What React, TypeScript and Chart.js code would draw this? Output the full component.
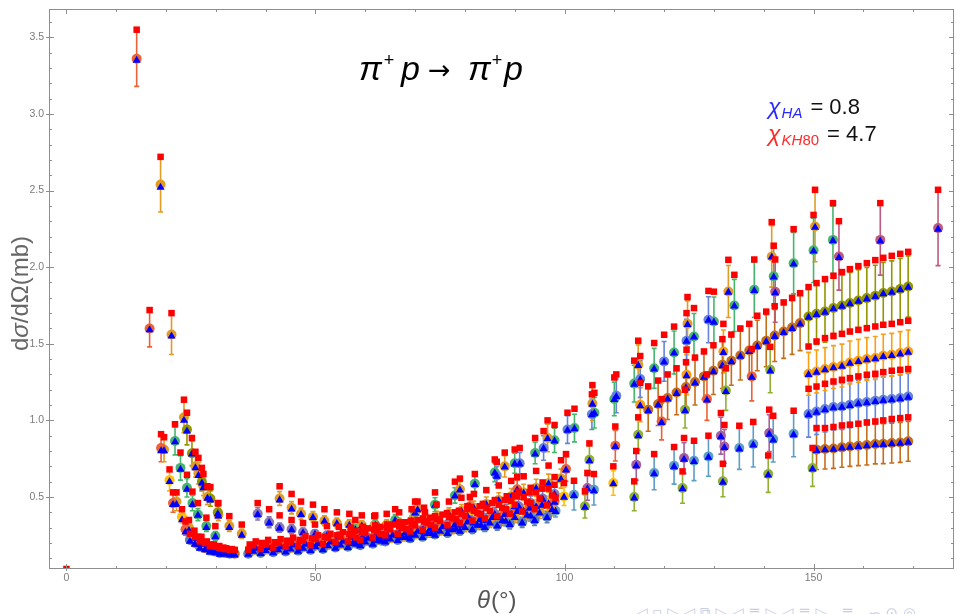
import React, { useEffect, useRef } from "react";
import { Chart, registerables } from "chart.js";

Chart.register(...registerables);

// [angle (deg), measured dσ/dΩ (mb), error, HA model, KH80 model]
type Pt = [number, number, number, number, number];

const edgePoint: Pt[] = [[0.0, 0.01, 0.01, 0.005, 0.03]];

const fwdRedOrange: Pt[] = [
  [14.1, 3.36, 0.18, 3.35, 3.55], [16.7, 1.6, 0.12, 1.59, 1.72], [19.0, 0.82, 0.09, 0.8, 0.91],
  [21.4, 0.46, 0.06, 0.45, 0.53], [23.9, 0.29, 0.04, 0.27, 0.34], [26.5, 0.2, 0.03, 0.19, 0.24],
  [29.0, 0.16, 0.02, 0.15, 0.19], [31.5, 0.145, 0.02, 0.135, 0.17],
];
const fwdOrange: Pt[] = [
  [18.9, 2.54, 0.18, 2.52, 2.72], [21.1, 1.56, 0.13, 1.55, 1.7], [19.6, 0.81, 0.08, 0.8, 0.89],
  [22.1, 0.47, 0.06, 0.45, 0.53], [24.6, 0.3, 0.04, 0.28, 0.35], [27.1, 0.2, 0.03, 0.19, 0.24],
  [29.6, 0.16, 0.02, 0.15, 0.19], [32.1, 0.14, 0.02, 0.13, 0.165],
];
const fwdYellow: Pt[] = [
  [20.7, 0.61, 0.07, 0.6, 0.68], [23.2, 0.37, 0.04, 0.35, 0.42], [25.7, 0.24, 0.03, 0.23, 0.28],
  [28.2, 0.18, 0.02, 0.17, 0.21], [30.7, 0.15, 0.02, 0.14, 0.18], [33.2, 0.14, 0.02, 0.13, 0.16],
];
const fwdGreen: Pt[] = [
  [21.8, 0.865, 0.09, 0.86, 0.975], [22.9, 0.69, 0.08, 0.68, 0.79], [24.2, 0.56, 0.06, 0.55, 0.645],
  [25.3, 0.46, 0.05, 0.45, 0.535], [26.4, 0.385, 0.04, 0.38, 0.46], [28.1, 0.31, 0.035, 0.3, 0.365],
  [29.9, 0.245, 0.03, 0.24, 0.31],
];
const fwdOlive: Pt[] = [
  [24.2, 0.94, 0.1, 0.93, 1.05], [25.2, 0.785, 0.08, 0.78, 0.885], [27.2, 0.6, 0.06, 0.59, 0.69],
  [28.9, 0.49, 0.05, 0.48, 0.565], [30.4, 0.4, 0.04, 0.39, 0.46],
];
const fwdOrangeHigh: Pt[] = [
  [23.6, 1.02, 0.1, 1.0, 1.135], [25.9, 0.7, 0.07, 0.69, 0.795], [26.5, 0.655, 0.07, 0.64, 0.755],
  [27.5, 0.57, 0.06, 0.56, 0.65], [28.3, 0.5, 0.05, 0.49, 0.57], [30.5, 0.385, 0.04, 0.375, 0.46],
  [32.7, 0.31, 0.035, 0.3, 0.375], [35.2, 0.26, 0.03, 0.25, 0.32],
];
const fwdBlue: Pt[] = [
  [24.8, 0.22, 0.02, 0.21, 0.26], [26.8, 0.175, 0.02, 0.165, 0.21], [28.8, 0.15, 0.015, 0.14, 0.18],
  [30.8, 0.135, 0.015, 0.125, 0.165], [32.8, 0.13, 0.015, 0.12, 0.155],
];
const fwdBrown: Pt[] = [
  [25.8, 0.2, 0.02, 0.19, 0.24], [27.8, 0.165, 0.02, 0.155, 0.2], [29.8, 0.145, 0.015, 0.135, 0.175],
  [31.8, 0.135, 0.015, 0.125, 0.16], [33.8, 0.13, 0.015, 0.12, 0.155],
];

const bandBlue: Pt[] = [
  [36.5, 0.13, 0.015, 0.125, 0.155], [39.0, 0.135, 0.015, 0.13, 0.16], [41.5, 0.14, 0.015, 0.135, 0.17],
  [44.0, 0.145, 0.015, 0.14, 0.175], [46.5, 0.15, 0.015, 0.145, 0.18], [49.0, 0.155, 0.016, 0.15, 0.185],
  [51.5, 0.16, 0.016, 0.155, 0.195], [54.0, 0.17, 0.017, 0.165, 0.205], [56.5, 0.175, 0.017, 0.17, 0.21],
  [59.0, 0.185, 0.018, 0.18, 0.22], [61.5, 0.195, 0.019, 0.19, 0.235], [64.0, 0.21, 0.02, 0.205, 0.25],
  [66.5, 0.22, 0.021, 0.215, 0.26], [69.0, 0.23, 0.022, 0.225, 0.275], [71.5, 0.24, 0.023, 0.235, 0.285],
  [74.0, 0.255, 0.024, 0.25, 0.3], [76.5, 0.265, 0.025, 0.26, 0.315], [79.0, 0.28, 0.027, 0.275, 0.33],
  [81.5, 0.29, 0.028, 0.285, 0.345], [84.0, 0.305, 0.03, 0.3, 0.36], [86.5, 0.315, 0.031, 0.31, 0.375],
  [89.0, 0.325, 0.033, 0.32, 0.39], [91.5, 0.335, 0.034, 0.33, 0.405], [94.0, 0.35, 0.036, 0.345, 0.42],
  [96.5, 0.37, 0.038, 0.365, 0.445],
];
const bandOrange: Pt[] = [
  [37.5, 0.15, 0.016, 0.145, 0.185], [40.0, 0.155, 0.016, 0.15, 0.19], [42.5, 0.16, 0.016, 0.155, 0.2],
  [45.0, 0.165, 0.017, 0.16, 0.205], [47.5, 0.17, 0.017, 0.165, 0.215], [50.0, 0.18, 0.018, 0.175, 0.225],
  [52.5, 0.185, 0.018, 0.18, 0.235], [55.0, 0.19, 0.019, 0.185, 0.24], [57.5, 0.2, 0.02, 0.195, 0.25],
  [60.0, 0.21, 0.021, 0.205, 0.265], [62.5, 0.22, 0.022, 0.215, 0.275], [65.0, 0.23, 0.023, 0.225, 0.29],
  [67.5, 0.24, 0.024, 0.235, 0.3], [70.0, 0.255, 0.025, 0.25, 0.315], [72.5, 0.265, 0.026, 0.26, 0.33],
  [75.0, 0.28, 0.028, 0.275, 0.345], [77.5, 0.29, 0.029, 0.285, 0.36], [80.0, 0.305, 0.031, 0.3, 0.375],
  [82.5, 0.32, 0.032, 0.315, 0.395], [85.0, 0.335, 0.034, 0.33, 0.41], [87.5, 0.35, 0.035, 0.345, 0.43],
  [90.0, 0.37, 0.037, 0.365, 0.45], [92.5, 0.385, 0.039, 0.38, 0.47], [95.0, 0.4, 0.04, 0.395, 0.49],
  [97.5, 0.42, 0.042, 0.415, 0.51],
];
const bandRed: Pt[] = [
  [38.0, 0.17, 0.017, 0.165, 0.21], [40.5, 0.175, 0.017, 0.17, 0.22], [43.0, 0.18, 0.018, 0.175, 0.225],
  [45.5, 0.19, 0.019, 0.185, 0.235], [48.0, 0.195, 0.019, 0.19, 0.245], [50.5, 0.2, 0.02, 0.195, 0.25],
  [53.0, 0.21, 0.021, 0.205, 0.26], [55.5, 0.215, 0.021, 0.21, 0.27], [58.0, 0.225, 0.022, 0.22, 0.28],
  [60.5, 0.235, 0.023, 0.23, 0.295], [63.0, 0.245, 0.024, 0.24, 0.305], [65.5, 0.255, 0.025, 0.25, 0.32],
  [68.0, 0.27, 0.027, 0.265, 0.335], [70.5, 0.28, 0.028, 0.275, 0.35], [73.0, 0.295, 0.029, 0.29, 0.365],
  [75.5, 0.31, 0.031, 0.305, 0.385], [78.0, 0.325, 0.032, 0.32, 0.4], [80.5, 0.34, 0.034, 0.335, 0.42],
  [83.0, 0.355, 0.035, 0.35, 0.44], [85.5, 0.37, 0.037, 0.365, 0.46], [88.0, 0.39, 0.039, 0.385, 0.48],
  [90.5, 0.41, 0.041, 0.405, 0.505], [93.0, 0.43, 0.043, 0.425, 0.53], [95.5, 0.45, 0.045, 0.445, 0.555],
  [98.0, 0.47, 0.047, 0.465, 0.58],
];
const bandPurple: Pt[] = [
  [38.4, 0.39, 0.04, 0.385, 0.46], [40.7, 0.335, 0.035, 0.33, 0.42], [42.8, 0.3, 0.03, 0.295, 0.38],
  [45.2, 0.29, 0.03, 0.285, 0.35], [47.5, 0.27, 0.027, 0.265, 0.33], [49.9, 0.26, 0.026, 0.255, 0.32],
  [52.3, 0.25, 0.025, 0.245, 0.31], [54.7, 0.245, 0.025, 0.24, 0.305], [57.1, 0.24, 0.024, 0.235, 0.3],
  [59.5, 0.245, 0.025, 0.24, 0.305], [62.0, 0.25, 0.025, 0.245, 0.315], [64.4, 0.255, 0.026, 0.25, 0.32],
  [66.8, 0.265, 0.027, 0.26, 0.335], [69.2, 0.275, 0.028, 0.27, 0.345], [71.6, 0.29, 0.029, 0.285, 0.36],
  [74.0, 0.3, 0.03, 0.295, 0.375], [76.4, 0.315, 0.032, 0.31, 0.395], [78.8, 0.33, 0.033, 0.325, 0.41],
  [81.2, 0.35, 0.035, 0.345, 0.435], [83.6, 0.37, 0.037, 0.365, 0.455], [86.0, 0.39, 0.039, 0.385, 0.48],
  [88.4, 0.41, 0.041, 0.405, 0.505], [90.8, 0.44, 0.044, 0.435, 0.535], [93.2, 0.46, 0.046, 0.455, 0.56],
  [95.6, 0.49, 0.049, 0.485, 0.595], [98.0, 0.52, 0.052, 0.515, 0.63],
];
const bandOrangeHigh: Pt[] = [
  [42.8, 0.49, 0.045, 0.48, 0.57], [45.2, 0.43, 0.04, 0.42, 0.52], [47.1, 0.39, 0.037, 0.385, 0.47],
  [49.5, 0.37, 0.035, 0.365, 0.45], [51.8, 0.345, 0.033, 0.34, 0.42], [54.3, 0.33, 0.032, 0.325, 0.4],
  [56.8, 0.32, 0.031, 0.315, 0.39], [59.3, 0.315, 0.03, 0.31, 0.38], [61.8, 0.31, 0.03, 0.305, 0.375],
  [64.3, 0.32, 0.031, 0.315, 0.39], [66.8, 0.33, 0.032, 0.325, 0.4], [69.3, 0.345, 0.034, 0.34, 0.42],
  [71.8, 0.355, 0.035, 0.35, 0.43], [74.3, 0.37, 0.037, 0.365, 0.45], [76.8, 0.39, 0.039, 0.385, 0.47],
  [79.3, 0.41, 0.041, 0.405, 0.495], [81.8, 0.43, 0.043, 0.425, 0.52], [84.3, 0.455, 0.045, 0.45, 0.545],
  [86.8, 0.48, 0.048, 0.475, 0.575], [89.3, 0.505, 0.05, 0.5, 0.605], [91.8, 0.53, 0.053, 0.525, 0.635],
  [94.3, 0.56, 0.056, 0.555, 0.67], [96.8, 0.59, 0.059, 0.585, 0.705], [99.3, 0.62, 0.062, 0.615, 0.74],
];
const bandYellow: Pt[] = [
  [36.8, 0.16, 0.016, 0.155, 0.19], [39.3, 0.165, 0.016, 0.16, 0.2], [41.8, 0.17, 0.017, 0.165, 0.205],
  [44.3, 0.175, 0.017, 0.17, 0.215], [46.8, 0.18, 0.018, 0.175, 0.22], [49.3, 0.19, 0.019, 0.185, 0.23],
  [51.8, 0.195, 0.019, 0.19, 0.24], [54.3, 0.2, 0.02, 0.195, 0.25], [56.8, 0.21, 0.021, 0.205, 0.26],
  [59.3, 0.22, 0.022, 0.215, 0.27], [61.8, 0.23, 0.023, 0.225, 0.285], [64.3, 0.24, 0.024, 0.235, 0.295],
  [66.8, 0.25, 0.025, 0.245, 0.31], [69.3, 0.26, 0.026, 0.255, 0.32], [71.8, 0.275, 0.027, 0.27, 0.34],
  [74.3, 0.29, 0.029, 0.285, 0.355], [76.8, 0.3, 0.03, 0.295, 0.37], [79.3, 0.32, 0.032, 0.315, 0.39],
  [81.8, 0.335, 0.033, 0.33, 0.41], [84.3, 0.35, 0.035, 0.345, 0.43], [86.8, 0.37, 0.037, 0.365, 0.45],
  [89.3, 0.39, 0.039, 0.385, 0.475], [91.8, 0.41, 0.041, 0.405, 0.5], [94.3, 0.44, 0.044, 0.435, 0.53],
  [96.8, 0.46, 0.046, 0.455, 0.555],
];
const bandLightBlue: Pt[] = [
  [58.2, 0.195, 0.019, 0.19, 0.235], [63.2, 0.215, 0.021, 0.21, 0.26], [68.2, 0.24, 0.024, 0.235, 0.29],
  [73.2, 0.265, 0.026, 0.26, 0.32], [78.2, 0.295, 0.029, 0.29, 0.355], [83.2, 0.32, 0.032, 0.315, 0.39],
  [88.2, 0.345, 0.034, 0.34, 0.42], [93.2, 0.38, 0.038, 0.375, 0.46], [98.2, 0.41, 0.041, 0.405, 0.495],
];

const steepGreen: Pt[] = [
  [58.0, 0.29, 0.03, 0.285, 0.35], [62.0, 0.32, 0.032, 0.315, 0.38], [66.0, 0.35, 0.035, 0.345, 0.42],
  [70.0, 0.4, 0.04, 0.395, 0.47], [74.0, 0.45, 0.045, 0.445, 0.53], [78.0, 0.51, 0.05, 0.505, 0.6],
  [82.0, 0.587, 0.055, 0.58, 0.65], [86.0, 0.66, 0.06, 0.655, 0.745], [90.0, 0.72, 0.065, 0.715, 0.81],
  [94.1, 0.787, 0.07, 0.78, 0.885], [98.0, 0.87, 0.08, 0.865, 0.97], [102.0, 0.95, 0.09, 0.945, 1.076],
  [106.0, 1.05, 0.1, 1.045, 1.18], [110.0, 1.14, 0.11, 1.135, 1.28], [114.0, 1.24, 0.12, 1.235, 1.39],
  [118.0, 1.34, 0.13, 1.335, 1.505], [122.0, 1.443, 0.14, 1.438, 1.612], [126.0, 1.548, 0.15, 1.543, 1.733],
  [130.0, 1.645, 0.16, 1.64, 1.84], [134.1, 1.75, 0.17, 1.745, 1.95], [138.1, 1.852, 0.18, 1.847, 2.05],
  [142.0, 1.94, 0.19, 1.935, 2.14], [146.0, 2.026, 0.2, 2.02, 2.248], [150.0, 2.11, 0.21, 2.105, 2.341],
  [153.9, 2.178, 0.22, 2.172, 2.418],
];
const steepOrange: Pt[] = [
  [70.5, 0.42, 0.04, 0.415, 0.47], [79.0, 0.55, 0.05, 0.545, 0.62], [88.0, 0.7, 0.07, 0.695, 0.79],
  [96.6, 0.885, 0.09, 0.88, 1.0], [105.6, 1.11, 0.11, 1.105, 1.23], [114.8, 1.363, 0.13, 1.358, 1.52],
  [124.7, 1.63, 0.15, 1.625, 1.805], [132.9, 1.841, 0.17, 1.836, 2.048], [141.6, 2.07, 0.2, 2.065, 2.294],
  [150.3, 2.265, 0.23, 2.26, 2.505],
];
const steepBlue: Pt[] = [
  [86.4, 0.64, 0.06, 0.635, 0.73], [91.0, 0.72, 0.07, 0.715, 0.82], [95.8, 0.82, 0.08, 0.815, 0.93],
  [100.6, 0.94, 0.09, 0.935, 1.05], [105.5, 1.04, 0.1, 1.035, 1.17], [110.4, 1.16, 0.11, 1.155, 1.3],
  [115.2, 1.27, 0.12, 1.265, 1.42], [120.0, 1.385, 0.13, 1.38, 1.559], [124.5, 1.52, 0.14, 1.515, 1.7],
  [128.9, 1.657, 0.15, 1.652, 1.845],
];
const midRedOrange: Pt[] = [
  [72.0, 0.35, 0.03, 0.345, 0.4], [81.0, 0.44, 0.04, 0.435, 0.5], [90.5, 0.55, 0.06, 0.545, 0.63],
  [100.3, 0.683, 0.08, 0.675, 0.78], [110.2, 0.835, 0.1, 0.828, 0.96], [119.5, 0.993, 0.12, 0.985, 1.139],
  [128.6, 1.14, 0.14, 1.132, 1.3], [137.6, 1.287, 0.16, 1.28, 1.465],
];
const midYellow: Pt[] = [
  [80.5, 0.38, 0.04, 0.375, 0.44], [90.0, 0.44, 0.045, 0.435, 0.51], [99.9, 0.504, 0.06, 0.498, 0.591],
  [109.8, 0.591, 0.08, 0.585, 0.7],
];
const midOrange: Pt[] = [
  [115.2, 1.102, 0.11, 1.095, 1.244], [124.5, 1.298, 0.13, 1.29, 1.461], [131.9, 1.45, 0.14, 1.442, 1.63],
];
const lowLightBlue: Pt[] = [
  [101.9, 0.515, 0.1, 0.508, 0.606], [105.9, 0.548, 0.1, 0.54, 0.65], [118.0, 0.657, 0.11, 0.65, 0.78],
  [122.0, 0.704, 0.12, 0.697, 0.826], [126.0, 0.737, 0.13, 0.73, 0.867], [128.9, 0.765, 0.13, 0.758, 0.9],
  [135.1, 0.82, 0.14, 0.813, 0.965], [137.9, 0.846, 0.15, 0.839, 0.99], [141.9, 0.878, 0.15, 0.871, 1.03],
  [146.0, 0.913, 0.15, 0.906, 1.063],
];
const lowMagenta: Pt[] = [
  [104.6, 0.559, 0.08, 0.552, 0.657], [114.4, 0.71, 0.1, 0.703, 0.8], [124.0, 0.754, 0.1, 0.745, 0.885],
  [131.4, 0.9, 0.12, 0.892, 1.048], [132.1, 0.83, 0.11, 0.822, 0.97], [141.1, 0.917, 0.12, 0.909, 1.07],
];
const lowLime: Pt[] = [
  [104.1, 0.439, 0.076, 0.432, 0.537], [114.0, 0.5, 0.09, 0.493, 0.602], [123.7, 0.559, 0.1, 0.552, 0.667],
  [131.8, 0.602, 0.1, 0.595, 0.717], [140.9, 0.65, 0.12, 0.643, 0.771], [149.8, 0.689, 0.12, 0.682, 0.82],
];
const midLime: Pt[] = [
  [105.0, 0.743, 0.09, 0.735, 0.85], [114.8, 0.906, 0.1, 0.898, 1.02], [124.2, 1.07, 0.12, 1.062, 1.2],
  [132.4, 1.195, 0.13, 1.187, 1.34], [141.3, 1.33, 0.15, 1.322, 1.48],
];
const highPink: Pt[] = [
  [142.3, 1.84, 0.2, 1.832, 2.05], [155.1, 2.07, 0.22, 2.062, 2.3], [163.4, 2.178, 0.23, 2.17, 2.418],
  [175.0, 2.255, 0.245, 2.247, 2.505],
];
const backBrown: Pt[] = [
  [116.8, 1.069, 0.14, 1.062, 1.222], [118.8, 1.107, 0.14, 1.1, 1.26], [120.7, 1.146, 0.14, 1.139, 1.3],
  [122.5, 1.182, 0.145, 1.175, 1.34], [124.4, 1.218, 0.145, 1.211, 1.38], [126.2, 1.25, 0.15, 1.243, 1.41],
  [128.0, 1.287, 0.15, 1.28, 1.45], [129.9, 1.324, 0.155, 1.317, 1.49], [131.7, 1.363, 0.155, 1.356, 1.53],
  [133.5, 1.389, 0.16, 1.382, 1.56], [135.3, 1.424, 0.16, 1.417, 1.6], [137.1, 1.456, 0.165, 1.449, 1.63],
  [138.7, 1.489, 0.165, 1.482, 1.683], [140.5, 1.52, 0.17, 1.513, 1.71], [142.2, 1.554, 0.17, 1.547, 1.745],
  [144.0, 1.58, 0.175, 1.573, 1.77], [145.7, 1.606, 0.175, 1.599, 1.8], [147.3, 1.635, 0.18, 1.628, 1.83],
];
const backOlive: Pt[] = [
  [149.0, 1.678, 0.2, 1.672, 1.87], [150.6, 1.696, 0.2, 1.69, 1.896], [152.3, 1.711, 0.2, 1.705, 1.922],
  [154.0, 1.733, 0.2, 1.727, 1.944], [155.7, 1.75, 0.2, 1.744, 1.968], [157.3, 1.766, 0.2, 1.76, 1.987],
  [159.0, 1.783, 0.2, 1.777, 2.007], [160.7, 1.798, 0.2, 1.792, 2.026], [162.4, 1.813, 0.2, 1.807, 2.046],
  [164.0, 1.831, 0.2, 1.825, 2.061], [165.7, 1.841, 0.2, 1.835, 2.074], [167.4, 1.857, 0.2, 1.851, 2.087],
  [169.0, 1.874, 0.2, 1.868, 2.1],
];
const backOrange: Pt[] = [
  [149.0, 1.304, 0.14, 1.298, 1.482], [150.6, 1.319, 0.14, 1.313, 1.515], [152.3, 1.335, 0.14, 1.329, 1.537],
  [154.0, 1.348, 0.14, 1.342, 1.552], [155.7, 1.358, 0.14, 1.352, 1.565], [157.3, 1.378, 0.14, 1.372, 1.58],
  [159.0, 1.389, 0.14, 1.383, 1.591], [160.7, 1.4, 0.14, 1.394, 1.602], [162.4, 1.407, 0.14, 1.401, 1.613],
  [164.0, 1.422, 0.14, 1.416, 1.624], [165.7, 1.428, 0.14, 1.422, 1.63], [167.4, 1.439, 0.14, 1.433, 1.641],
  [169.0, 1.45, 0.14, 1.444, 1.65],
];
const backBlue: Pt[] = [
  [149.0, 1.041, 0.15, 1.035, 1.206], [150.6, 1.058, 0.15, 1.052, 1.221], [152.3, 1.074, 0.15, 1.068, 1.239],
  [154.0, 1.087, 0.15, 1.081, 1.254], [155.7, 1.091, 0.15, 1.085, 1.265], [157.3, 1.102, 0.15, 1.096, 1.276],
  [159.0, 1.113, 0.15, 1.107, 1.287], [160.7, 1.12, 0.15, 1.114, 1.298], [162.4, 1.128, 0.15, 1.122, 1.304],
  [164.0, 1.135, 0.15, 1.129, 1.315], [165.7, 1.139, 0.15, 1.133, 1.324], [167.4, 1.146, 0.15, 1.14, 1.33],
  [169.0, 1.156, 0.15, 1.15, 1.335],
];
const backBrownLow: Pt[] = [
  [150.6, 0.809, 0.13, 0.803, 0.95], [152.3, 0.813, 0.13, 0.807, 0.95], [154.0, 0.817, 0.13, 0.811, 0.957],
  [155.7, 0.824, 0.13, 0.818, 0.967], [157.3, 0.83, 0.13, 0.824, 0.972], [159.0, 0.835, 0.13, 0.829, 0.978],
  [160.7, 0.839, 0.13, 0.833, 0.987], [162.4, 0.846, 0.13, 0.84, 0.993], [164.0, 0.848, 0.13, 0.842, 1.0],
  [165.7, 0.852, 0.13, 0.846, 1.009], [167.4, 0.856, 0.13, 0.85, 1.015], [169.0, 0.863, 0.13, 0.857, 1.02],
];

// series and their Mathematica-style colours (style kept apart from the values)
const SERIES: [Pt[], string][] = [
  [edgePoint, "#EB6235"],
  [fwdRedOrange, "#EB6235"], [fwdOrange, "#E19C24"], [fwdYellow, "#FFBF00"], [fwdGreen, "#47B66D"],
  [fwdOlive, "#929600"], [fwdOrangeHigh, "#E19C24"], [fwdBlue, "#5E81B5"], [fwdBrown, "#C56E1A"],
  [bandBlue, "#5E81B5"], [bandOrange, "#E19C24"], [bandRed, "#EB6235"], [bandPurple, "#8778B3"],
  [bandOrangeHigh, "#E19C24"], [bandYellow, "#FFBF00"], [bandLightBlue, "#5D9EC7"],
  [lowLightBlue, "#5D9EC7"], [lowMagenta, "#A5609D"], [lowLime, "#8FB032"], [midLime, "#8FB032"],
  [midYellow, "#FFBF00"], [midRedOrange, "#EB6235"], [midOrange, "#F89F13"],
  [backBrown, "#C56E1A"], [backBrownLow, "#C56E1A"], [backBlue, "#6685D9"], [backOrange, "#F89F13"],
  [backOlive, "#929600"], [steepBlue, "#6685D9"], [steepOrange, "#E19C24"], [steepGreen, "#47B66D"],
  [highPink, "#BC5B80"],
];

const X_MIN = -3.5;
const X_MAX = 178.2;
const Y_MIN = 0.03;
const Y_MAX = 3.685;
const X_MAJOR = [0, 50, 100, 150];
const X_LABELS = ["0", "50", "100", "150"];
const X_MINOR = [10, 20, 30, 40, 60, 70, 80, 90, 110, 120, 130, 140, 160, 170];
const Y_MAJOR = [0.5, 1.0, 1.5, 2.0, 2.5, 3.0, 3.5];
const Y_LABELS = ["0.5", "1.0", "1.5", "2.0", "2.5", "3.0", "3.5"];

const SANS = "'Liberation Sans', Arial, sans-serif";

const errorBarPlugin = {
  id: "errorBars",
  beforeDatasetsDraw(chart: any) {
    const { ctx, chartArea: a, scales } = chart;
    ctx.save();
    ctx.beginPath();
    ctx.rect(a.left, a.top, a.right - a.left, a.bottom - a.top);
    ctx.clip();
    ctx.lineWidth = 1.6;
    chart.data.datasets.forEach((ds: any) => {
      if (!ds.errs) return;
      ctx.strokeStyle = ds.barColor;
      ds.data.forEach((p: any, i: number) => {
        const x = scales.x.getPixelForValue(p.x);
        const y1 = scales.y.getPixelForValue(p.y - ds.errs[i]);
        const y2 = scales.y.getPixelForValue(p.y + ds.errs[i]);
        ctx.beginPath();
        ctx.moveTo(x, y1);
        ctx.lineTo(x, y2);
        ctx.moveTo(x - 2.5, y1);
        ctx.lineTo(x + 2.5, y1);
        ctx.moveTo(x - 2.5, y2);
        ctx.lineTo(x + 2.5, y2);
        ctx.stroke();
      });
    });
    ctx.restore();
  },
};

function piece(ctx: CanvasRenderingContext2D, text: string, font: string, color: string, x: number, y: number) {
  ctx.font = font;
  ctx.fillStyle = color;
  ctx.fillText(text, x, y);
  return x + ctx.measureText(text).width;
}

const framePlugin = {
  id: "frame",
  afterDraw(chart: any) {
    const { ctx, chartArea: a, scales } = chart;
    const xs = scales.x;
    const ys = scales.y;
    ctx.save();
    ctx.strokeStyle = "#8e8e8e";
    ctx.lineWidth = 1;
    ctx.strokeRect(a.left + 0.5, a.top + 0.5, a.right - a.left - 1, a.bottom - a.top - 1);
    ctx.beginPath();
    X_MAJOR.forEach((v) => {
      const px = Math.round(xs.getPixelForValue(v)) + 0.5;
      ctx.moveTo(px, a.bottom + 2); ctx.lineTo(px, a.bottom - 5);
      ctx.moveTo(px, a.top); ctx.lineTo(px, a.top + 5);
    });
    X_MINOR.forEach((v) => {
      const px = Math.round(xs.getPixelForValue(v)) + 0.5;
      ctx.moveTo(px, a.bottom); ctx.lineTo(px, a.bottom - 3);
      ctx.moveTo(px, a.top); ctx.lineTo(px, a.top + 3);
    });
    for (let i = 1; i <= 36; i++) {
      const v = i / 10;
      const major = i % 5 === 0;
      const py = Math.round(ys.getPixelForValue(v)) + 0.5;
      if (major) {
        ctx.moveTo(a.left - 3, py); ctx.lineTo(a.left + 5, py);
        ctx.moveTo(a.right, py); ctx.lineTo(a.right - 5, py);
      } else {
        ctx.moveTo(a.left, py); ctx.lineTo(a.left + 3, py);
        ctx.moveTo(a.right, py); ctx.lineTo(a.right - 3, py);
      }
    }
    ctx.stroke();

    // tick labels
    ctx.fillStyle = "#7c7c7c";
    ctx.font = `10.5px ${SANS}`;
    ctx.textAlign = "right";
    ctx.textBaseline = "middle";
    Y_MAJOR.forEach((v, i) => ctx.fillText(Y_LABELS[i], a.left - 5, ys.getPixelForValue(v)));
    ctx.textAlign = "center";
    ctx.textBaseline = "top";
    X_MAJOR.forEach((v, i) => ctx.fillText(X_LABELS[i], xs.getPixelForValue(v), a.bottom + 4));

    // axis titles
    ctx.textAlign = "left";
    ctx.textBaseline = "alphabetic";
    ctx.save();
    ctx.translate(28, 351);
    ctx.rotate(-Math.PI / 2);
    let tx = 0;
    tx = piece(ctx, "d", `24px ${SANS}`, "#666", tx, 0);
    tx = piece(ctx, "σ", `italic 24px ${SANS}`, "#666", tx, 0);
    tx = piece(ctx, "/d", `24px ${SANS}`, "#666", tx, 0);
    tx = piece(ctx, "Ω(mb)", `24px ${SANS}`, "#666", tx, 0);
    ctx.restore();

    let bx = 477;
    bx = piece(ctx, "θ", `italic 24px ${SANS}`, "#555", bx, 608);
    piece(ctx, "(°)", `24px ${SANS}`, "#555", bx + 1, 608);

    // reaction title
    let t = piece(ctx, "π", `italic 34px ${SANS}`, "#000", 359, 80);
    piece(ctx, "+", `18px ${SANS}`, "#000", t + 2, 66);
    piece(ctx, "p", `italic 34px ${SANS}`, "#000", 401, 80);
    piece(ctx, "→", `27px 'DejaVu Sans', sans-serif`, "#000", 428, 79);
    t = piece(ctx, "π", `italic 34px ${SANS}`, "#000", 468, 80);
    piece(ctx, "+", `18px ${SANS}`, "#000", t + 1, 66);
    piece(ctx, "p", `italic 34px ${SANS}`, "#000", 504, 80);

    // chi-square annotations
    let lx = piece(ctx, "χ", `italic 23px ${SANS}`, "#2a2aff", 768, 114);
    lx = piece(ctx, "HA", `italic 15px ${SANS}`, "#2a2aff", lx + 1, 118);
    piece(ctx, "= 0.8", `22px ${SANS}`, "#111", lx + 8, 114);
    let kx = piece(ctx, "χ", `italic 23px ${SANS}`, "#ff2a2a", 768, 141);
    kx = piece(ctx, "KH", `italic 15px ${SANS}`, "#ff2a2a", kx + 1, 145);
    kx = piece(ctx, "80", `15px ${SANS}`, "#ff2a2a", kx, 145);
    piece(ctx, "= 4.7", `22px ${SANS}`, "#111", kx + 8, 141);

    // faint navigation symbols of the slide
    piece(ctx, "◁ ▫ ▷ ◁ ⧉ ▷ ◁ ≣ ▷ ◁ ≣ ▷   ≣   ∽ ⊙ ◎", `15px 'DejaVu Sans', sans-serif`, "#c9cde0", 636, 618);
    ctx.restore();
  },
};

export default function App() {
  const ref = useRef<HTMLCanvasElement>(null);
  useEffect(() => {
    if (!ref.current) return;
    const circleSets = SERIES.map(([pts, color], i) => ({
      type: "scatter" as const,
      label: `data ${i}`,
      data: pts.map((p) => ({ x: p[0], y: p[1] })),
      errs: pts.map((p) => p[2]),
      barColor: color,
      pointStyle: "circle",
      pointRadius: 5,
      pointBackgroundColor: color,
      pointBorderWidth: 0,
      borderColor: color,
      backgroundColor: color,
      showLine: false,
      order: 3,
      clip: 0,
    }));
    const haSet = {
      type: "scatter" as const,
      label: "HA",
      data: SERIES.flatMap(([pts]) => pts.map((p) => ({ x: p[0], y: p[3] }))),
      pointStyle: "triangle",
      pointRadius: 4.7,
      pointBackgroundColor: "#0000ff",
      backgroundColor: "#0000ff",
      borderColor: "#0000ff",
      pointBorderWidth: 0,
      showLine: false,
      order: 2,
      clip: 0,
    };
    const khSet = {
      type: "scatter" as const,
      label: "KH80",
      data: SERIES.flatMap(([pts]) => pts.map((p) => ({ x: p[0], y: p[4] }))),
      pointStyle: "rect",
      pointRadius: 4.6,
      pointBackgroundColor: "#ff0000",
      backgroundColor: "#ff0000",
      borderColor: "#ff0000",
      pointBorderWidth: 0,
      showLine: false,
      order: 1,
      clip: 0,
    };
    const chart = new Chart(ref.current, {
      type: "scatter",
      data: { datasets: [khSet, haSet, ...circleSets] as any },
      options: {
        responsive: false,
        animation: false,
        devicePixelRatio: 1,
        events: [],
        layout: { autoPadding: false, padding: { top: 9, right: 2, left: 0, bottom: 0 } },
        plugins: { legend: { display: false }, tooltip: { enabled: false }, title: { display: false } },
        scales: {
          x: {
            type: "linear",
            min: X_MIN,
            max: X_MAX,
            grid: { display: false },
            border: { display: false },
            ticks: { display: false },
            afterFit: (s: any) => { s.height = 45; },
          },
          y: {
            type: "linear",
            min: Y_MIN,
            max: Y_MAX,
            grid: { display: false },
            border: { display: false },
            ticks: { display: false },
            afterFit: (s: any) => { s.width = 49; },
          },
        },
      } as any,
      plugins: [errorBarPlugin, framePlugin],
    });
    return () => chart.destroy();
  }, []);
  return (
    <div style={{ position: "absolute", left: 0, top: 0, width: 956, height: 614, background: "#fff" }}>
      <canvas ref={ref} width={956} height={614} style={{ display: "block", width: 956, height: 614 }} />
    </div>
  );
}
